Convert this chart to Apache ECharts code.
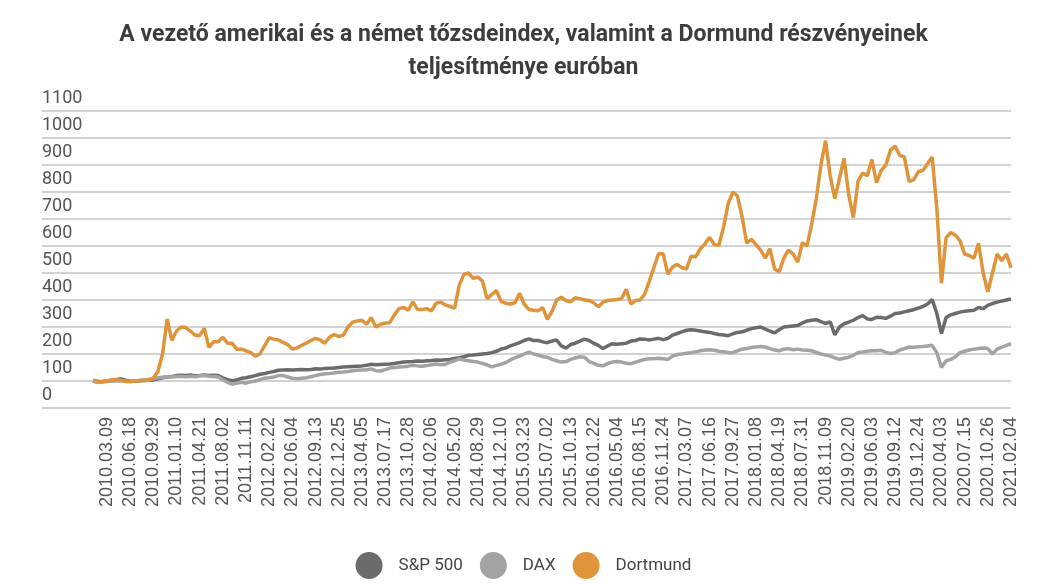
<!DOCTYPE html>
<html>
<head>
<meta charset="utf-8">
<script src="https://cdn.jsdelivr.net/npm/echarts@6/dist/echarts.min.js"></script>
<style>html,body{margin:0;padding:0;background:#fff;}#c{width:1047px;height:584px;}</style>
</head>
<body>
<div id="c"></div>
<script>
const dates = ["2010.03.09","2010.06.18","2010.09.29","2011.01.10","2011.04.21","2011.08.02","2011.11.11","2012.02.22","2012.06.04","2012.09.13","2012.12.25","2013.04.05","2013.07.17","2013.10.28","2014.02.06","2014.05.20","2014.08.29","2014.12.10","2015.03.23","2015.07.02","2015.10.13","2016.01.22","2016.05.04","2016.08.15","2016.11.24","2017.03.07","2017.06.16","2017.09.27","2018.01.08","2018.04.19","2018.07.31","2018.11.09","2019.02.20","2019.06.03","2019.09.12","2019.12.24","2020.04.03","2020.07.15","2020.10.26","2021.02.04"];
const LABEL_OFFSET = 3;
const LABEL_STEP = 5;
const yTicks = [0,100,200,300,400,500,600,700,800,900,1000,1100];

const sp500 = [
100,97,98,100,101,105,108,103,100,99,100,
102,103,104,108,112,115,117,120,121,120,
122,119,120,122,120,121,120,112,105,101,
104,110,112,116,120,125,128,132,135,140,
141,142,141,142,143,142,143,145,144,146,
147,148,150,152,153,154,155,156,158,162,
160,161,162,163,165,168,170,171,172,174,
173,175,176,178,177,179,180,183,186,190,
195,196,198,200,202,205,210,218,222,230,
236,242,250,256,250,250,245,242,248,252,
230,222,235,240,248,255,250,240,232,220,
230,238,236,238,240,248,250,256,255,252,
255,258,253,258,270,276,282,288,290,288,
285,282,280,276,272,270,268,275,280,282,
288,294,297,300,292,285,278,290,300,302,
304,306,315,322,325,327,320,313,319,271,
300,312,318,325,335,342,330,328,336,335,
332,340,350,352,356,360,364,370,376,385,
402,350,276,335,345,350,355,358,360,362,
372,368,380,387,392,396,400,404
];
const dax = [
100,95,96,98,100,101,100,99,100,101,102,
104,106,108,112,114,116,115,117,118,116,
118,116,119,120,118,117,115,105,95,88,
92,95,92,97,100,105,110,112,115,120,
120,115,110,108,110,112,116,120,124,127,
128,130,132,133,135,138,140,141,142,145,
138,137,142,148,150,152,153,155,158,156,
155,157,160,163,160,162,170,175,182,178,
175,172,170,165,160,152,158,162,168,178,
186,192,200,207,200,196,190,188,180,175,
170,172,180,185,190,188,172,165,158,156,
165,170,172,170,166,164,170,175,180,182,
182,184,182,180,192,198,200,203,205,208,
212,215,216,214,210,208,206,205,212,218,
220,224,226,228,226,220,215,212,218,220,
216,218,215,214,212,206,200,196,192,186,
180,184,188,195,205,207,210,212,212,214,
206,202,205,215,220,226,225,227,228,230,
232,205,150,175,180,190,205,210,215,218,
220,222,220,200,218,225,232,238
];
const dortmund = [
103,100,97,100,105,106,103,98,97,100,102,
103,103,110,135,200,330,250,285,300,298,
285,270,268,295,225,245,245,262,240,240,
218,218,212,205,192,200,230,260,255,252,
243,235,218,222,232,240,250,258,252,240,
262,272,265,270,300,318,322,325,310,335,
300,310,315,316,345,368,372,362,393,365,
365,368,360,388,392,382,376,370,455,495,
500,480,485,470,405,420,435,395,388,385,
390,425,385,365,362,360,372,328,358,400,
410,398,393,408,405,400,398,390,375,392,
398,400,402,405,440,385,398,400,422,470,
522,572,570,495,522,532,520,515,562,560,
590,608,632,605,603,670,757,800,785,708,
610,625,605,585,555,590,515,505,555,585,
570,540,612,600,680,775,900,990,860,775,
850,925,790,705,840,870,860,920,835,880,
900,955,970,935,930,840,845,875,880,905,
930,740,462,630,650,640,620,570,565,555,
610,500,430,500,570,545,570,520
];

const names = ["S&P 500","DAX","Dortmund"];
const colors = ["#6b6b6d","#a3a3a3","#e0943a"];
const seriesValues = [sp500, dax, dortmund];

const chart = echarts.init(document.getElementById('c'), null, {renderer:'canvas'});
chart.setOption({
  animation: false,
  backgroundColor: '#ffffff',
  title: {
    text: 'A vezető amerikai és a német tőzsdeindex, valamint a Dormund részvényeinek\nteljesítménye euróban',
    left: 'center',
    top: 19,
    padding: [0,0,0,12],
    textStyle: {fontFamily: 'Roboto', fontWeight: 'bold', fontSize: 23, lineHeight: 33, color: '#3d3d3d'}
  },
  legend: {
    data: names,
    left: 'center',
    top: 547,
    icon: 'circle',
    itemWidth: 27,
    itemHeight: 27,
    itemGap: 17,
    textStyle: {fontFamily: 'Roboto', fontSize: 17, color: '#444', padding: [0,0,0,11]}
  },
  grid: {left: 42, right: 36, top: 111, bottom: 176},
  xAxis: {
    type: 'value',
    min: -11,
    max: sp500.length - 1,
    axisLine: {show: false},
    axisTick: {show: false},
    splitLine: {show: false},
    axisLabel: {
      customValues: dates.map((d, k) => LABEL_OFFSET + k * LABEL_STEP),
      formatter: v => dates[Math.round((v - LABEL_OFFSET) / LABEL_STEP)] || '',
      rotate: 90,
      margin: 9,
      fontFamily: 'Liberation Sans',
      fontSize: 18,
      color: '#555'
    }
  },
  yAxis: {
    type: 'value',
    min: yTicks[0],
    max: yTicks[yTicks.length - 1],
    interval: 100,
    axisLine: {show: false},
    axisTick: {show: false},
    splitLine: {show: true, lineStyle: {color: '#d2d2d2', width: 2, type: 'solid', opacity: 1}},
    axisLabel: {
      inside: true,
      margin: 0,
      align: 'left',
      verticalAlign: 'bottom',
      padding: [0,0,4,0],
      formatter: v => String(v),
      fontFamily: 'Roboto',
      fontSize: 18,
      color: '#555'
    }
  },
  series: seriesValues.map((vals, s) => ({
    name: names[s],
    type: 'line',
    showSymbol: false,
    symbol: 'none',
    color: colors[s],
    lineStyle: {width: 3.5, color: colors[s]},
    data: vals.map((v, i) => [i, v])
  }))
});
</script>
</body>
</html>
